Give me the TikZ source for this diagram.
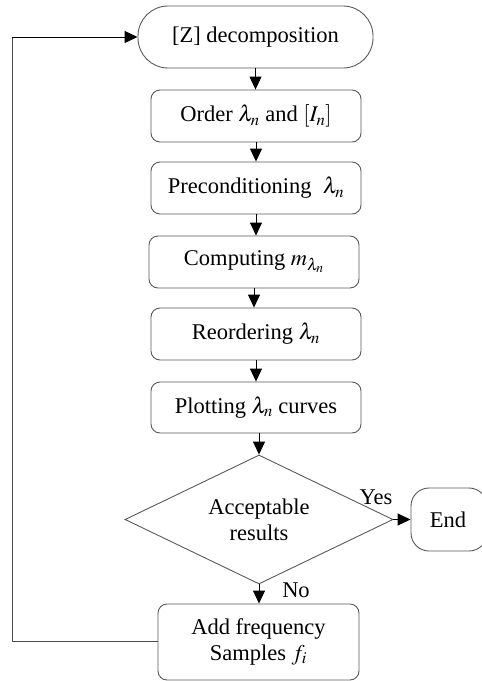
\documentclass[tikz,border=0pt]{standalone}
\usepackage{mathptmx}
\usepackage{fontspec}
\setmainfont{Liberation Serif}
\usetikzlibrary{arrows.meta,shapes.geometric}
\begin{document}
\begin{tikzpicture}[x=1pt,y=-1pt,
  every node/.style={font=\fontsize{22.5}{26}\selectfont, text=black},
  stepbox/.style={draw=black!65, line width=0.9pt, rounded corners=9pt, minimum width=210pt, minimum height=52pt, inner sep=0pt},
  term/.style={draw=black!65, line width=0.9pt, rounded corners=30pt, minimum width=235pt, minimum height=62pt, inner sep=0pt},
  decis/.style={draw=black!65, line width=0.9pt, diamond, aspect=2.08, minimum width=268pt, minimum height=129pt, inner sep=0pt, align=center},
  conn/.style={line width=0.9pt, -{Triangle[width=12pt,length=13pt]}},
  plain/.style={line width=0.9pt, draw=black!70}
]
\useasboundingbox (0,0) rectangle (482,681);
\begin{scope}
\clip (0,0) rectangle (482,681);
\node[term] (dec) at (255.5,37) {[Z] decomposition};
\node[stepbox] (order) at (256,116) {Order $\lambda_n$ and $[I_n]$};
\node[stepbox] (pre) at (256,188) {Preconditioning\ \ $\lambda_n$};
\node[stepbox] (comp) at (254,262) {Computing $m_{\lambda_n}$};
\node[stepbox] (reord) at (256,334) {Reordering $\lambda_n$};
\node[stepbox, minimum height=51pt] (plot) at (256,407.5) {Plotting $\lambda_n$ curves};
\node[decis] (dia) at (259,519.5) {Acceptable\\results};
\node[draw=black!65, line width=0.9pt, rounded corners=18pt, minimum width=76pt, minimum height=63pt, inner sep=0pt] (endb) at (449,519.5) {};
\node (endt) at (448,519.5) {End};
\node[stepbox, align=center, minimum width=201pt, minimum height=76pt] (add) at (258.5,642) {Add frequency\\Samples $f_i$};
\coordinate (loopa) at (12,641);
\coordinate (loopb) at (12,37);

\draw[conn] (dec.south) -- (dec.south |- order.north);
\draw[conn] (order.south) -- (order.south |- pre.north);
\draw[conn] (pre.south) -- (pre.south |- comp.north);
\draw[conn] (comp.south) -- (comp.south |- reord.north);
\draw[conn] (reord.south) -- (reord.south |- plot.north);
\draw[conn] (plot.south -| dia.north) -- (dia.north);
\draw[conn] (dia.east) -- (endb.west);
\draw[conn] (dia.south) -- (dia.south |- add.north);
\draw[plain] (add.west |- loopa) -- (loopa) -- (loopb);
\draw[conn] (loopb) -- (dec.west);
\node (yes) at (376,497) {Yes};
\node (no) at (296,590) {No};
\end{scope}
\end{tikzpicture}
\end{document}
